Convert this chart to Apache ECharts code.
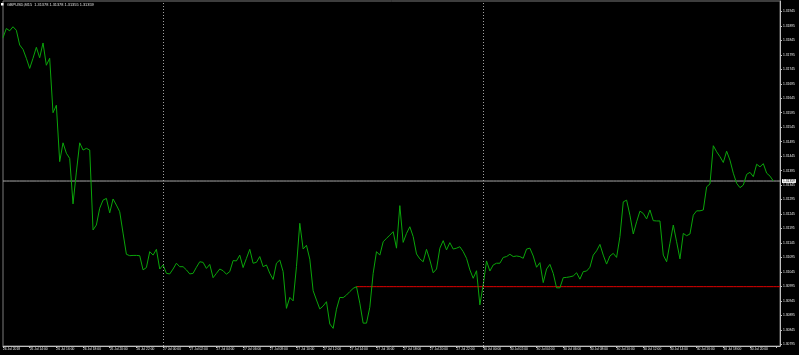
<!DOCTYPE html>
<html>
<head>
<meta charset="utf-8">
<script src="https://cdn.jsdelivr.net/npm/echarts@6/dist/echarts.min.js"></script>
<style>html,body{margin:0;padding:0;background:#000;}#chart{width:799px;height:355px;}</style>
</head>
<body>
<div id="chart"></div>
<script>
// M15 close prices, 26 Jul 2018 12:00 -> 30 Jul 21:45
const closes = [
1.31854,1.31886,1.31878,1.31892,1.31880,1.31829,1.31814,1.31783,1.31748,1.31783,
1.31821,1.31785,1.31836,1.31759,1.31783,1.31595,1.31621,1.31426,1.31491,1.31455,
1.31437,1.31280,1.31390,1.31491,1.31466,1.31472,1.31466,1.31190,1.31207,1.31265,
1.31293,1.31299,1.31249,1.31297,1.31276,1.31253,1.31179,1.31106,1.31101,1.31102,
1.31102,1.31101,1.31052,1.31060,1.31115,1.31103,1.31123,1.31055,1.31069,1.31040,
1.31038,1.31055,1.31075,1.31063,1.31063,1.31052,1.31038,1.31040,1.31061,1.31080,
1.31078,1.31057,1.31071,1.31025,1.31040,1.31055,1.31049,1.31037,1.31046,1.31084,
1.31083,1.31103,1.31060,1.31092,1.31123,1.31075,1.31078,1.31098,1.31063,1.31069,
1.31040,1.31019,1.31075,1.31086,1.31046,1.30919,1.30957,1.30945,1.31063,1.31213,
1.31124,1.31137,1.31089,1.30980,1.30948,1.30917,1.30927,1.30942,1.30865,1.30850,
1.30916,1.30957,1.30956,1.30965,1.30977,1.30988,1.30994,1.30937,1.30868,1.30868,
1.30923,1.31040,1.31115,1.31103,1.31149,1.31161,1.31172,1.31184,1.31127,1.31274,
1.31147,1.31178,1.31201,1.31167,1.31107,1.31090,1.31080,1.31123,1.31086,1.31042,
1.31055,1.31127,1.31153,1.31121,1.31146,1.31124,1.31127,1.31132,1.31115,1.31092,
1.31052,1.31023,1.31049,1.30931,1.31000,1.31083,1.31048,1.31069,1.31075,1.31075,
1.31095,1.31098,1.31106,1.31098,1.31100,1.31098,1.31092,1.31124,1.31127,1.31100,
1.31061,1.31077,1.31008,1.31055,1.31071,1.31040,1.30990,1.30990,1.31025,1.31026,
1.31028,1.31031,1.31042,1.31020,1.31046,1.31048,1.31061,1.31103,1.31118,1.31140,
1.31103,1.31072,1.31100,1.31109,1.31095,1.31167,1.31287,1.31293,1.31241,1.31176,
1.31218,1.31255,1.31247,1.31228,1.31259,1.31222,1.31221,1.31221,1.31103,1.31080,
1.31144,1.31207,1.31149,1.31090,1.31178,1.31170,1.31176,1.31241,1.31256,1.31256,
1.31259,1.31339,1.31349,1.31481,1.31460,1.31443,1.31423,1.31462,1.31431,1.31386,
1.31351,1.31336,1.31345,1.31382,1.31389,1.31374,1.31417,1.31408,1.31419,1.31386,
1.31376,1.31359
];
const xTickLabels = [
'26 Jul 2018','26 Jul 14:00','26 Jul 16:00','26 Jul 18:00','26 Jul 20:00','26 Jul 22:00',
'27 Jul 00:00','27 Jul 02:00','27 Jul 04:00','27 Jul 06:00','27 Jul 08:00','27 Jul 10:00',
'27 Jul 12:00','27 Jul 14:00','27 Jul 16:00','27 Jul 18:00','27 Jul 20:00','27 Jul 22:00',
'30 Jul 00:00','30 Jul 02:00','30 Jul 04:00','30 Jul 06:00','30 Jul 08:00','30 Jul 10:00',
'30 Jul 12:00','30 Jul 14:00','30 Jul 16:00','30 Jul 18:00','30 Jul 20:00'
];
const yTickValues = [
1.30795,1.30845,1.30895,1.30945,1.30995,1.31045,1.31095,1.31145,1.31195,1.31245,1.31295,1.31345,
1.31395,1.31445,1.31495,1.31545,1.31595,1.31645,1.31695,1.31745,1.31795,1.31845,1.31895,1.31945
];
const daySeparators = [48, 144];
const supportStart = 106;
const supportLevel = 1.30994;
const titleText = 'GBPUSD,M15  1.31378 1.31378 1.31355 1.31359';
const totalSlots = 234;
const barsPerLabel = 8;

const categories = [];
for (let i = 0; i < totalSlots; i++) categories.push(String(i));
const lastPrice = closes[closes.length - 1];
const currentLine = categories.map(() => lastPrice);
const supportLine = categories.map((c, i) => (i >= supportStart ? supportLevel : null));

const chart = echarts.init(document.getElementById('chart'), null, {renderer: 'canvas'});
const fontFam = 'Liberation Sans, Arial, sans-serif';
chart.setOption({
  backgroundColor: '#000',
  animation: false,
  title: {
    text: titleText, left: 7, top: 2.5, padding: 0,
    textStyle: {color: '#e0e0e0', fontSize: 3.9, fontWeight: 'normal', fontFamily: fontFam}
  },
  graphic: [{type: 'rect', left: 1, top: 3, shape: {width: 2.5, height: 2.5}, style: {fill: '#fff'}}],
  grid: {left: 1, right: 19, top: 1, bottom: 9, show: true, borderColor: '#7a7a7a', borderWidth: 1, backgroundColor: 'transparent'},
  xAxis: {
    type: 'category', data: categories, boundaryGap: false,
    axisLine: {show: true, lineStyle: {color: '#c0c0c0', width: 1}},
    axisTick: {show: true, length: 2, interval: (i) => i % barsPerLabel === 0, lineStyle: {color: '#c0c0c0'}},
    axisLabel: {
      show: true, interval: (i) => i % barsPerLabel === 0 && i / barsPerLabel < xTickLabels.length,
      formatter: (v, i) => xTickLabels[i / barsPerLabel] || '',
      align: 'left', margin: 2, color: '#e8e8e8', fontSize: 3.3, fontFamily: fontFam
    },
    splitLine: {show: false}
  },
  yAxis: {
    type: 'value', position: 'right', min: 1.30789, max: 1.31981, scale: true,
    axisLine: {show: true, lineStyle: {color: '#c0c0c0', width: 1}},
    axisTick: {show: true, length: 2, customValues: yTickValues, lineStyle: {color: '#c0c0c0'}},
    axisLabel: {show: true, customValues: yTickValues, formatter: (v) => v.toFixed(5),
      margin: 3, color: '#e8e8e8', fontSize: 3.3, fontFamily: fontFam},
    splitLine: {show: false}
  },
  series: [
    {
      name: 'current', type: 'line', data: currentLine, symbol: 'none', silent: true,
      lineStyle: {color: '#a8a8a8', width: 1}, z: 1,
      endLabel: {show: true, formatter: () => lastPrice.toFixed(5), distance: 2,
        backgroundColor: '#ffffff', color: '#000', fontSize: 3.3, padding: [0.6, 1, 0.2, 1], fontFamily: fontFam}
    },
    {
      name: 'support', type: 'line', data: supportLine, symbol: 'none', silent: true,
      lineStyle: {color: '#e00000', width: 1}, z: 1
    },
    {
      name: 'GBPUSD', type: 'line', data: closes, showSymbol: false, symbol: 'none', z: 3,
      lineStyle: {color: '#0aa50a', width: 1},
      itemStyle: {color: '#0aa50a'},
      markLine: {
        silent: true, symbol: 'none', animation: false, label: {show: false},
        lineStyle: {color: '#a0a0a0', width: 1, type: [1, 2]},
        data: daySeparators.map((d) => ({xAxis: d}))
      }
    }
  ]
});
</script>
</body>
</html>
